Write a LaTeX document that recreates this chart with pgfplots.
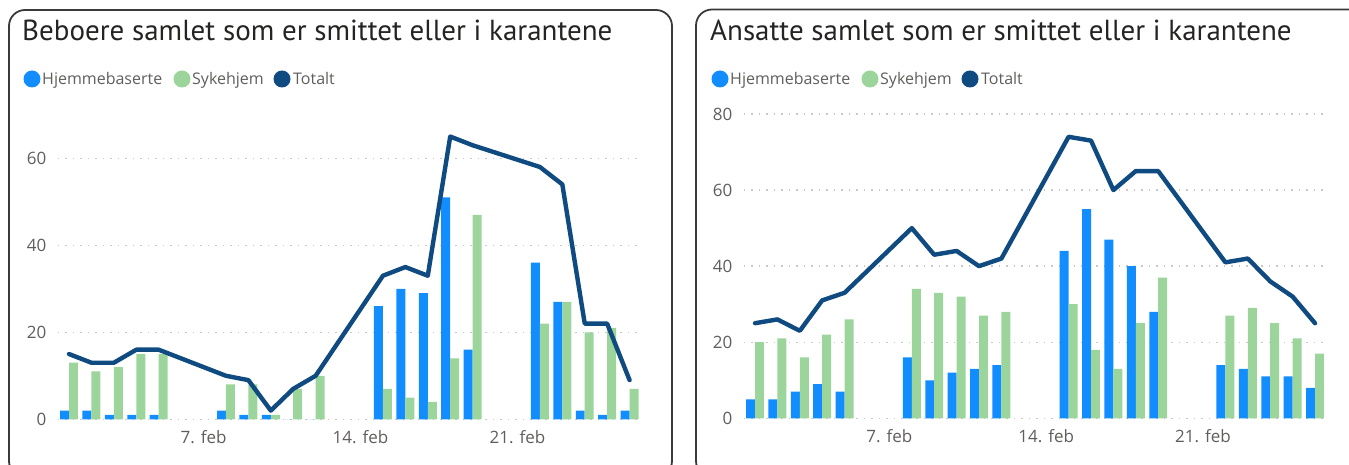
\documentclass[border=0pt]{standalone}
\usepackage{pgfplots}
\usepackage{pgfplotstable}
\pgfplotsset{compat=1.18}
\usepackage{fontspec}
\setmainfont{Open Sans}
\newfontfamily\titlefont{PT Sans}
\definecolor{cblue}{HTML}{118DFF}
\definecolor{cgreen}{HTML}{9BD59B}
\definecolor{cnavy}{HTML}{0F4A80}
\definecolor{cborder}{HTML}{3A3A3A}
\definecolor{ctitle}{HTML}{252423}
\definecolor{ctick}{HTML}{605E5C}
\definecolor{cgrid}{HTML}{C8C8C8}

\pgfplotstableread{
day blue green total
1 2 13 15
2 2 11 13
3 1 12 13
4 1 15 16
5 1 15 16
8 2 8 10
9 1 8 9
10 1 1 2
11 0 7 7
12 0 10 10
15 26 7 33
16 30 5 35
17 29 4 33
18 51 14 65
19 16 47 63
22 36 22 58
23 27 27 54
24 2 20 22
25 1 21 22
26 2 7 9
}\beboere

\pgfplotstableread{
day blue green total
1 5 20 25
2 5 21 26
3 7 16 23
4 9 22 31
5 7 26 33
8 16 34 50
9 10 33 43
10 12 32 44
11 13 27 40
12 14 28 42
15 44 30 74
16 55 18 73
17 47 13 60
18 40 25 65
19 28 37 65
22 14 27 41
23 13 29 42
24 11 25 36
25 11 21 32
26 8 17 25
}\ansatte

\pgfplotsset{pbi/.style={
  scale only axis, anchor=south west,
  xmin=0.5, xmax=26.5, ymin=0,
  axis line style={draw=none},
  major tick style={draw=none},
  ymajorgrids,
  grid style={dash pattern=on 1.3pt off 6.2pt, line width=1.3pt, color=cgrid},
  xtick={7,14,21}, xticklabels={7. feb,14. feb,21. feb},
  /pgf/number format/assume math mode=true,
  tick label style={font=\fontsize{17}{19}\selectfont, text=ctick},
  yticklabel style={xshift=-8pt},
  xticklabel style={yshift=-8pt},
  clip=false,
}}

\begin{document}
\begin{tikzpicture}[x=1pt,y=1pt]
\useasboundingbox (0,0) rectangle (1349,465);
% panel borders
\draw[line width=1.8pt, color=cborder, rounded corners=16pt] (9,455) rectangle (672,-12);
\draw[line width=1.8pt, color=cborder, rounded corners=16pt] (696,455.5) rectangle (1372,-12);

% titles
\node[anchor=base west, inner sep=0, font=\titlefont\fontsize{29}{32}\selectfont, text=ctitle] at (22,424) {Beboere samlet som er smittet eller i karantene};
\node[anchor=base west, inner sep=0, font=\titlefont\fontsize{29}{32}\selectfont, text=ctitle] at (710,424) {Ansatte samlet som er smittet eller i karantene};

% legends
\foreach \dx in {0,688}{
  \fill[cblue] (32+\dx,386) circle (8.5);
  \node[anchor=base west, inner sep=0, font=\fontsize{16}{18}\selectfont, text=ctick] at (42+\dx,380) {Hjemmebaserte};
  \fill[cgreen] (182+\dx,386) circle (8.5);
  \node[anchor=base west, inner sep=0, font=\fontsize{16}{18}\selectfont, text=ctick] at (192+\dx,380) {Sykehjem};
  \fill[cnavy] (282+\dx,386) circle (8.5);
  \node[anchor=base west, inner sep=0, font=\fontsize{16}{18}\selectfont, text=ctick] at (293+\dx,380) {Totalt};
}

\begin{axis}[pbi, at={(57.8pt,45.7pt)}, width=583pt, height=304.5pt, ymax=70, ytick={0,20,40,60}]
\addplot[ybar, bar width=0.4, bar shift=-0.2, fill=cblue, draw=none] table[x=day, y=blue] {\beboere};
\addplot[ybar, bar width=0.4, bar shift=0.2, fill=cgreen, draw=none] table[x=day, y=green] {\beboere};
\addplot[color=cnavy, line width=4.4pt, line join=round, line cap=round, mark=none] table[x=day, y=total] {\beboere};
\end{axis}

\begin{axis}[pbi, at={(743.8pt,46.7pt)}, width=582.4pt, height=304.3pt, ymax=80, ytick={0,20,40,60,80}]
\addplot[ybar, bar width=0.4, bar shift=-0.2, fill=cblue, draw=none] table[x=day, y=blue] {\ansatte};
\addplot[ybar, bar width=0.4, bar shift=0.2, fill=cgreen, draw=none] table[x=day, y=green] {\ansatte};
\addplot[color=cnavy, line width=4.4pt, line join=round, line cap=round, mark=none] table[x=day, y=total] {\ansatte};
\end{axis}
\end{tikzpicture}
\end{document}
